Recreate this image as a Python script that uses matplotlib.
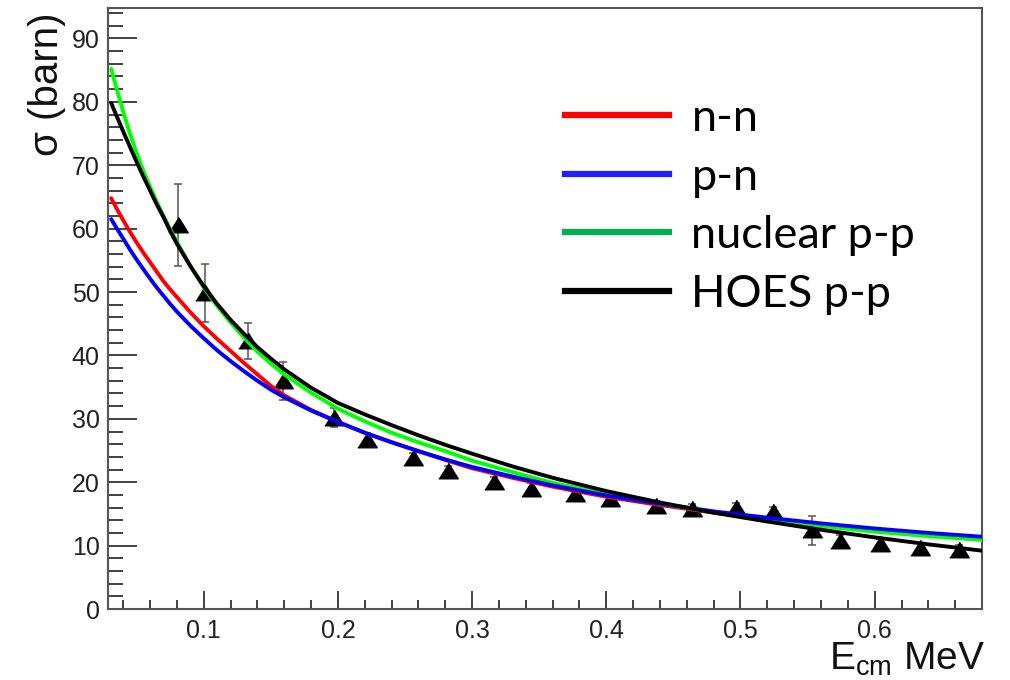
import matplotlib
matplotlib.use("Agg")
import matplotlib.pyplot as plt
from matplotlib.lines import Line2D
from matplotlib.font_manager import FontProperties

plt.rcParams['font.family'] = ['Liberation Sans', 'DejaVu Sans']
plt.rcParams['mathtext.fontset'] = 'custom'
plt.rcParams['mathtext.rm'] = 'Liberation Sans'
plt.rcParams['mathtext.it'] = 'Liberation Sans:italic'

# measured cross sections (triangles)
e_data = [0.081, 0.101, 0.133, 0.159, 0.197, 0.222, 0.256, 0.282, 0.316, 0.344, 0.377,
          0.403, 0.437, 0.464, 0.497, 0.524, 0.553, 0.574, 0.604, 0.634, 0.663]
sigma_data = [60.6, 49.8, 42.3, 35.9, 30.2, 26.7, 23.8, 21.7, 20.0, 19.0, 18.2,
              17.4, 16.2, 15.8, 16.0, 15.3, 12.4, 10.8, 10.2, 9.6, 9.3]
sigma_err = [6.5, 4.6, 2.8, 3.0, 1.5, 1.0, 0.8, 0.8, 0.8, 0.8, 0.8,
             0.8, 0.8, 0.8, 0.8, 0.8, 2.3, 0.8, 0.8, 0.8, 0.8]

# curves
e_curve = [0.031, 0.035, 0.04, 0.045, 0.05, 0.055, 0.06, 0.065, 0.07, 0.075, 0.08,
           0.09, 0.10, 0.11, 0.12, 0.13, 0.14, 0.15, 0.16,
           0.18, 0.20, 0.22, 0.24, 0.26, 0.28, 0.30,
           0.33, 0.36, 0.40, 0.44, 0.48, 0.52, 0.56, 0.60, 0.64, 0.68]
nn = [64.8, 63.2, 61.3, 59.5, 57.8, 56.2, 54.7, 53.2, 51.7, 50.4, 49.2,
      46.8, 44.6, 42.6, 40.7, 38.8, 37.0, 35.2, 33.7,
      31.4, 29.5, 27.8, 26.3, 24.9, 23.5, 22.2,
      20.7, 19.3, 17.7, 16.4, 15.2, 14.2, 13.3, 12.5, 11.8, 11.2]
pn = [61.5, 60.1, 58.4, 56.7, 55.1, 53.6, 52.1, 50.7, 49.4, 48.1, 46.9,
      44.7, 42.7, 40.8, 39.1, 37.5, 36.0, 34.6, 33.4,
      31.3, 29.5, 27.8, 26.3, 24.9, 23.6, 22.4,
      20.9, 19.5, 17.9, 16.6, 15.4, 14.4, 13.5, 12.7, 12.0, 11.4]
nuc_pp = [85.2, 82.1, 78.4, 75.0, 71.9, 69.1, 66.6, 64.2, 62.0, 59.9, 57.9,
          54.1, 50.7, 47.8, 45.2, 42.8, 40.6, 38.7, 37.0,
          34.1, 31.6, 29.6, 27.8, 26.3, 24.9, 23.4,
          21.6, 19.9, 18.1, 16.6, 15.3, 14.1, 13.1, 12.2, 11.5, 10.9]
hoes_pp = [79.8, 77.8, 75.3, 72.9, 70.5, 68.2, 66.0, 63.8, 61.8, 59.6, 57.6,
           54.1, 50.9, 48.1, 45.6, 43.4, 41.3, 39.5, 37.8,
           34.9, 32.5, 30.7, 29.0, 27.4, 25.9, 24.5,
           22.5, 20.7, 18.6, 16.8, 15.2, 13.8, 12.5, 11.3, 10.2, 9.2]

labels = ["n-n", "p-n", "nuclear p-p", "HOES p-p"]
legend_colors = ["#ff0000", "#2020ff", "#00b050", "#000000"]

fig = plt.figure(figsize=(10.1, 6.8), dpi=100)
ax = fig.add_axes([0.1069, 0.1044, 0.8654, 0.8838])

tri = [(-1, -0.75), (1, -0.75), (0, 0.85)]
ax.errorbar(e_data, sigma_data, yerr=sigma_err, fmt='none', ecolor='#555555',
            elinewidth=1.1, capsize=3, capthick=1.1, zorder=2)
ax.plot(e_data, sigma_data, linestyle='none', marker=tri, markersize=14,
        color='black', zorder=3)

kw = dict(lw=2.8, solid_joinstyle='round', solid_capstyle='round')
ax.plot(e_curve, nn, color='#ff0000', zorder=4, **kw)
ax.plot(e_curve, nuc_pp, color='#00ff00', zorder=5, **kw)
ax.plot(e_curve, pn, color='#0000ff', zorder=6, **kw)
ax.plot(e_curve, hoes_pp, color='black', zorder=7, **kw)

ax.set_xlim(0.0286, 0.68)
ax.set_ylim(0, 94.8)
ax.set_xticks([0.1, 0.2, 0.3, 0.4, 0.5, 0.6])
ax.set_xticklabels(["0.1", "0.2", "0.3", "0.4", "0.5", "0.6"])
ax.set_xticks([0.04, 0.06, 0.08, 0.12, 0.14, 0.16, 0.18, 0.22, 0.24, 0.26, 0.28,
               0.32, 0.34, 0.36, 0.38, 0.42, 0.44, 0.46, 0.48, 0.52, 0.54, 0.56,
               0.58, 0.62, 0.64, 0.66], minor=True)
ax.set_yticks(range(0, 100, 10))
ax.set_yticks([v for v in range(2, 95, 2) if v % 10], minor=True)

for s in ax.spines.values():
    s.set_color('#555555')
    s.set_linewidth(1.5)
ax.tick_params(axis='both', which='both', direction='in', colors='#333333',
               labelcolor='#222222', labelsize=18, top=False, right=False)
ax.tick_params(axis='y', which='major', length=21, width=1.3, pad=6)
ax.tick_params(axis='y', which='minor', length=11, width=1.3)
ax.tick_params(axis='x', which='major', length=13, width=1.3, pad=7)
ax.tick_params(axis='x', which='minor', length=6.5, width=1.3)

fig.text(47 / 1010, 1 - 12 / 680, "σ (barn)", rotation=90, ha='center', va='top',
         fontsize=29, color='#111111')
fig.text(985 / 1010, 1 - 670 / 680, r"E$_{\rm cm}$ MeV", ha='right', va='baseline',
         fontsize=28, color='#111111')

handles = [Line2D([], [], color=c, lw=4.5) for c in legend_colors]
ax.legend(handles, labels, loc='upper left', bbox_to_anchor=(565 / 1010, 1 - 98 / 680),
          bbox_transform=fig.transFigure, frameon=False,
          prop=FontProperties(family='Lato', size=32.5), handlelength=2.3,
          handletextpad=0.5, labelspacing=0.39, borderpad=0, borderaxespad=0)

plt.savefig("out.png", dpi=100)
